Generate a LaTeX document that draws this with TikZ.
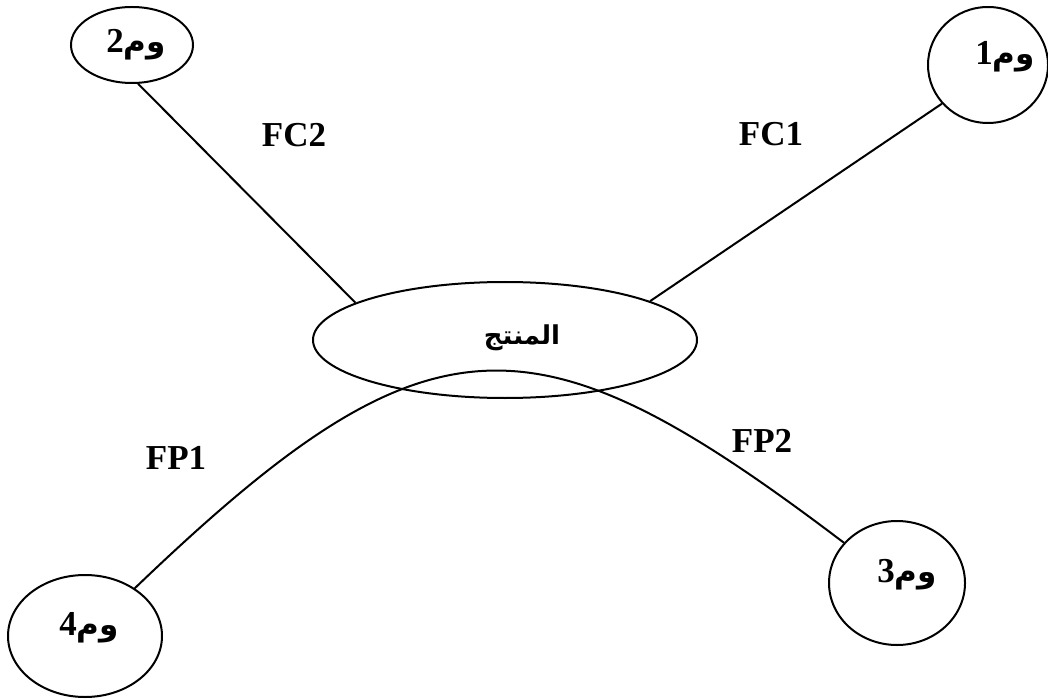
\documentclass[tikz,border=0pt]{standalone}
\usepackage{fontspec}
\setmainfont{Liberation Serif}
\newfontfamily\arabicfont[Script=Arabic]{DejaVu Sans}
\TeXXeTstate=1
\usetikzlibrary{shapes.geometric}
\tikzset{every node/.style={inner sep=0pt}}
\tikzset{ell/.style={ellipse,draw}}
\tikzset{lab/.style={font=\fontsize{35}{40}\selectfont\bfseries}}
\tikzset{ar/.style={font=\arabicfont\fontsize{26}{30}\selectfont\bfseries}}
\newcommand{\wm}[1]{\beginR{\fontsize{31}{36}\selectfont وم}{\rmfamily\fontsize{35}{40}\selectfont #1}\endR}

\begin{document}
\begin{tikzpicture}[x=1pt,y=-1pt,line width=2pt]
      \useasboundingbox (0,0) rectangle (1048,700);
      \node[ell,minimum width=384pt,minimum height=116pt] (prod) at (505,340) {};
      \node[ell,minimum width=120pt,minimum height=116pt] (m1) at (988,65) {};
      \node[ell,minimum width=122pt,minimum height=76pt] (m2) at (132,45) {};
      \node[ell,minimum width=136pt,minimum height=124pt] (m3) at (897,583) {};
      \node[ell,minimum width=154pt,minimum height=122pt] (m4) at (85,636) {};
      \node[ar] (tprod) at (522,338) {\beginR المنتج\endR};
      \node[ar] (t1) at (1005,57) {\wm{1}};
      \node[ar] (t2) at (136,45) {\wm{2}};
      \node[ar] (t3) at (907,575) {\wm{3}};
      \node[ar] (t4) at (89,628) {\wm{4}};
      \node[lab] (fc1) at (771,134) {FC1};
      \node[lab] (fc2) at (294,135) {FC2};
      \node[lab] (fp1) at (176,458) {FP1};
      \node[lab] (fp2) at (762,441) {FP2};
      \draw (m2.-81) -- (prod.166);
      \draw (m1.220) -- (prod.15);
      \draw (m4) .. controls (430,305) and (533,307) .. (m3);
    \end{tikzpicture}
\end{document}
